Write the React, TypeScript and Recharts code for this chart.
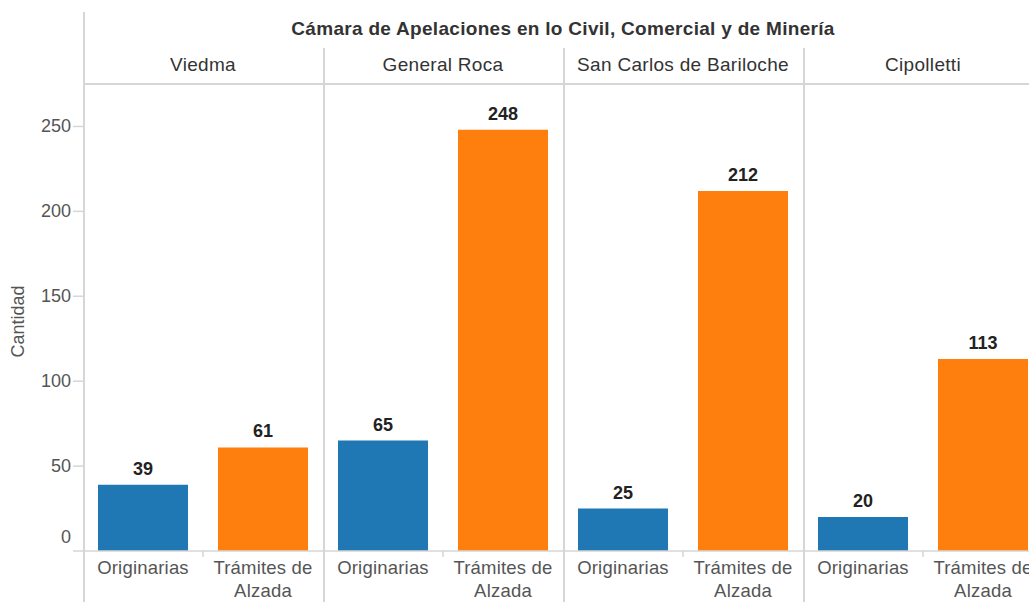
import { Bar, BarChart, Cell, LabelList, XAxis, YAxis } from "recharts";

const panels = ["Viedma", "General Roca", "San Carlos de Bariloche", "Cipolletti"];
const types = ["Originarias", "Trámites de Alzada"];
const originarias = [39, 65, 25, 20];
const tramites = [61, 248, 212, 113];
const yTicks = [0, 50, 100, 150, 200, 250];
const colors = ["#1f77b4", "#ff7f0e"];

const rows = panels.flatMap((p, i) => [
  { panel: p, type: types[0], value: originarias[i] },
  { panel: p, type: types[1], value: tramites[i] },
]);

const FONT = "'Liberation Sans', Arial, sans-serif";
const LINE = "#d6d6d6";
const PLOT_LEFT = 83;
const PANEL_W = 240;
const CAT_W = PANEL_W / 2;
const HEADER_TOP = 48;
const BASE = 551;
const CHART_W = PLOT_LEFT + PANEL_W * panels.length;
const CHART_H = 602;

function splitLabel(s: string, max = 11) {
  const lines: string[] = [];
  let cur = "";
  for (const w of s.split(" ")) {
    const next = cur ? cur + " " + w : w;
    if (next.length > max && cur) {
      lines.push(cur);
      cur = w;
    } else cur = next;
  }
  if (cur) lines.push(cur);
  return lines;
}

function CatTick(props: any) {
  const { x, payload, index } = props;
  const lines = splitLabel(String(payload.value));
  return (
    <g>
      {index % 2 === 0 && (
        <line x1={x + CAT_W / 2} x2={x + CAT_W / 2} y1={BASE} y2={BASE + 6} stroke={LINE} strokeWidth={1.5} />
      )}
      <text x={x} y={BASE + 23} textAnchor="middle" fill="#555" fontSize={18.5} letterSpacing={0.2} fontFamily={FONT}>
        {lines.map((l, i) => (
          <tspan key={i} x={x} dy={i === 0 ? 0 : 23}>
            {l}
          </tspan>
        ))}
      </text>
    </g>
  );
}

function PanelTick(props: any) {
  const { x, payload } = props;
  return (
    <text x={x} y={HEADER_TOP + 23} textAnchor="middle" fill="#333" fontSize={19} letterSpacing={0.3} fontFamily={FONT}>
      {payload.value}
    </text>
  );
}

function YTick(props: any) {
  const { x, y, payload } = props;
  return (
    <text x={x} y={y + (payload.value === 0 ? -14 : 0)} dy={6} textAnchor="end" fill="#555" fontSize={18} fontFamily={FONT}>
      {payload.value}
    </text>
  );
}

export default function App() {
  return (
    <div style={{ position: "absolute", left: 0, top: 0, width: 1029, height: CHART_H, overflow: "hidden", background: "#fff", fontFamily: FONT }}>
      <BarChart
        width={CHART_W}
        height={CHART_H}
        data={rows}
        margin={{ top: HEADER_TOP, right: 0, left: 0, bottom: 0 }}
        barCategoryGap={15}
      >
        <XAxis
          xAxisId="panel"
          dataKey="panel"
          orientation="top"
          allowDuplicatedCategory={false}
          height={36}
          tickLine={false}
          axisLine={{ stroke: LINE, strokeWidth: 2 }}
          tick={<PanelTick />}
          interval={0}
        />
        <XAxis
          xAxisId="cat"
          dataKey="type"
          height={CHART_H - BASE}
          tickLine={false}
          axisLine={{ stroke: LINE, strokeWidth: 1.5 }}
          tick={<CatTick />}
          interval={0}
        />
        <YAxis
          width={PLOT_LEFT}
          domain={[0, 275]}
          ticks={yTicks}
          axisLine={false}
          tickLine={{ stroke: LINE, strokeWidth: 1.5 }}
          tickSize={10}
          tick={<YTick />}
          label={{ value: "Cantidad", angle: -90, position: "insideLeft", offset: 18, dy: 40, fill: "#555", fontSize: 18, fontFamily: FONT }}
        />
        <Bar dataKey="value" xAxisId="cat" isAnimationActive={false}>
          {rows.map((r, i) => (
            <Cell key={i} fill={colors[types.indexOf(r.type)]} />
          ))}
          <LabelList dataKey="value" position="top" offset={10} fill="#222" fontSize={18} fontWeight="bold" fontFamily={FONT} />
        </Bar>
      </BarChart>
      <div style={{ position: "absolute", left: PLOT_LEFT, top: 12, width: 1.5, bottom: 0, background: LINE }} />
      {panels.slice(1).map((p, i) => (
        <div key={p} style={{ position: "absolute", left: PLOT_LEFT + PANEL_W * (i + 1), top: HEADER_TOP, width: 1.5, bottom: 0, background: LINE }} />
      ))}
      <div
        style={{
          position: "absolute",
          left: PLOT_LEFT,
          width: PANEL_W * panels.length,
          top: 18,
          textAlign: "center",
          fontWeight: "bold",
          fontSize: 19,
          letterSpacing: 0.3,
          color: "#333",
        }}
      >
        Cámara de Apelaciones en lo Civil, Comercial y de Minería
      </div>
    </div>
  );
}
